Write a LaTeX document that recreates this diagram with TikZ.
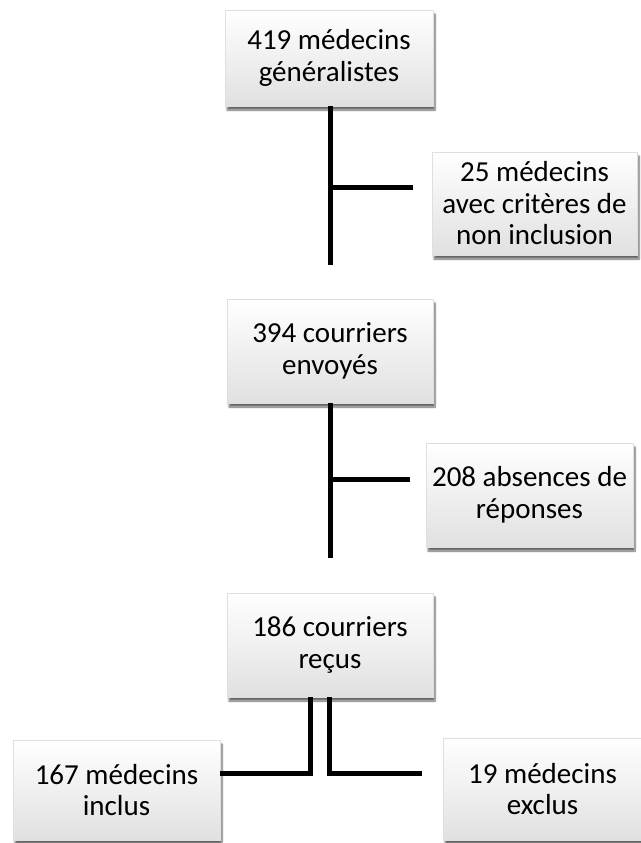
\documentclass[tikz,border=0pt]{standalone}
\usepackage{fontspec}
\setmainfont{Carlito}
\usetikzlibrary{shadows.blur}

\tikzset{
    etape/.style={draw=gray!25, line width=.6pt, top color=white, bottom color=gray!24,
        blur shadow={shadow xshift=2pt, shadow yshift=-4pt, shadow blur steps=6, shadow opacity=60},
        align=center, inner sep=0pt, font=\fontsize{29}{31.5}\selectfont},
    lien/.style={line width=5pt, black}
}

\begin{document}
\begin{tikzpicture}[x=1pt, y=-1pt]
    \useasboundingbox (0, 0) rectangle (640, 843);

    \node [etape, minimum width=208pt, minimum height=96pt] (medecins) at (329, 58) {419 médecins\\généralistes};
    \node [etape, minimum width=205pt, minimum height=103pt] (noninclus) at (534.5, 203.5) {25 médecins\\avec critères de\\non inclusion};
    \node [etape, minimum width=206pt, minimum height=104pt] (envoyes) at (330, 351) {394 courriers\\envoyés};
    \node [etape, minimum width=207pt, minimum height=104pt] (absences) at (529.5, 495) {208 absences de\\réponses};
    \node [etape, minimum width=206pt, minimum height=104pt] (recus) at (330, 645) {186 courriers\\reçus};
    \node [etape, minimum width=207pt, minimum height=100pt] (inclus) at (116.5, 790) {167 médecins\\inclus};
    \node [etape, minimum width=199pt, minimum height=102pt] (exclus) at (542.5, 789) {19 médecins\\exclus};

    \coordinate (fin1) at (330, 265);
    \coordinate (bras1) at (330, 187);
    \coordinate (bout1) at (413, 187);
    \draw [lien] (medecins.south -| fin1) to (fin1);
    \draw [lien] (bras1) to (bout1);

    \coordinate (fin2) at (330, 558);
    \coordinate (bras2) at (330, 479);
    \coordinate (bout2) at (410, 479);
    \draw [lien] (envoyes.south -| fin2) to (fin2);
    \draw [lien] (bras2) to (bout2);

    \coordinate (gauche) at (310, 773);
    \coordinate (droite) at (329, 773);
    \coordinate (bout3) at (422, 773);
    \draw [lien] (recus.south -| gauche) to (gauche) to (inclus.east |- gauche);
    \draw [lien] (recus.south -| droite) to (droite) to (bout3);
\end{tikzpicture}
\end{document}
